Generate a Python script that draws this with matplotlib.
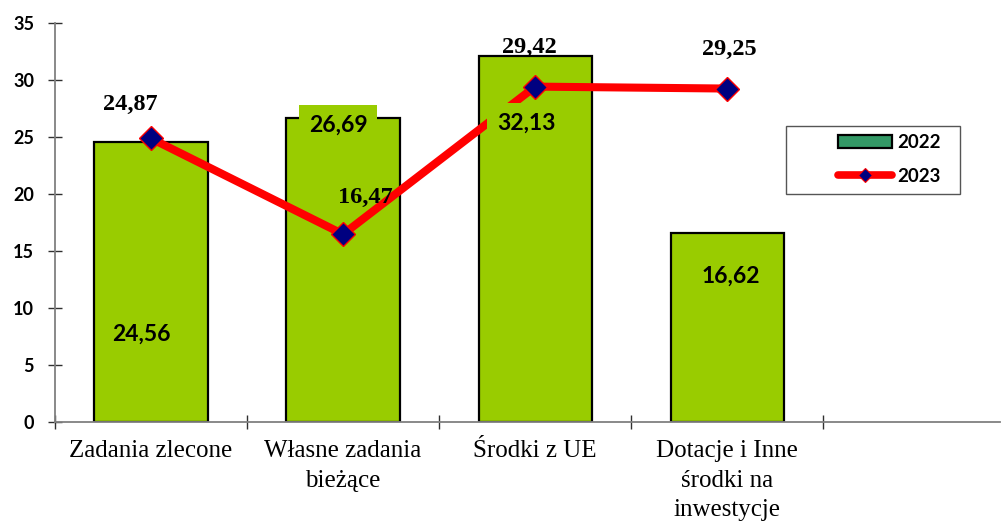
import matplotlib
matplotlib.use("Agg")
import matplotlib.pyplot as plt
from matplotlib.patches import Patch, Rectangle
from matplotlib.lines import Line2D

# ---- data ----
categories = ["Zadania zlecone", "Własne zadania\nbieżące", "Środki z UE",
              "Dotacje i Inne\nśrodki na\ninwestycje"]
values_2022 = [24.56, 26.69, 32.13, 16.62]
values_2023 = [24.87, 16.47, 29.42, 29.25]
series_names = ["2022", "2023"]
y_ticks = [0, 5, 10, 15, 20, 25, 30, 35]

# ---- layout (label offsets in pixels) ----
bar_label_offsets = [(-10, -192), (-5, -7), (-9, -67), (4, -44)]
line_label_offsets = [(-21, 34), (22, 37), (-6, 39), (2, 39)]

BAR_GREEN = "#99CC00"
LEG_GREEN = "#339966"
SANS = ["Lato", "DejaVu Sans"]
SERIF = ["Liberation Serif", "DejaVu Serif"]

def fmt(v):
    return f"{v:.2f}".replace(".", ",")

W, H = 1002, 522
fig = plt.figure(figsize=(W / 100, H / 100), dpi=100)
ax = fig.add_axes([55 / W, 100 / H, (1000 - 55) / W, (422 - 23) / H])

x = list(range(len(categories)))
ax.bar(x, values_2022, width=0.59, color=BAR_GREEN, edgecolor="black",
       linewidth=1.6, zorder=2)
ax.plot(x, values_2023, color="red", lw=5.8, marker="D", ms=12.5,
        mfc="#000080", mec="red", mew=1.0, zorder=3, solid_capstyle="round")

ax.set_xlim(-0.5, 4.42)
ax.set_ylim(0, 35)

for s in ["top", "right"]:
    ax.spines[s].set_visible(False)
for s in ["left", "bottom"]:
    ax.spines[s].set_color("#808080")
    ax.spines[s].set_linewidth(1.3)

ax.set_yticks(y_ticks)
ax.set_yticklabels([str(t) for t in y_ticks], fontfamily=SANS,
                   fontweight="bold", fontsize=13)
ax.tick_params(axis="y", direction="inout", length=10, width=1.0,
               color="#303030", pad=10)

ax.set_xticks([-0.5, 0.5, 1.5, 2.5, 3.5])
ax.set_xticklabels([])
ax.tick_params(axis="x", which="major", direction="inout", length=10,
               width=1.0, color="#303030")
ax.set_xticks(x, minor=True)
ax.set_xticklabels(categories, minor=True, fontfamily=SERIF, fontsize=18,
                   linespacing=1.45)
ax.tick_params(axis="x", which="minor", length=0, pad=13)

# bar labels
for i, v in enumerate(values_2022):
    dx, dy = bar_label_offsets[i]
    ax.annotate(fmt(v), xy=(i, v), xytext=(dx, dy), textcoords="offset pixels",
                ha="center", va="center", fontfamily=SANS, fontweight="bold",
                fontsize=16.5, zorder=4,
                bbox=dict(boxstyle="square,pad=0.42", fc=BAR_GREEN, ec="none"))

# line labels
for i, v in enumerate(values_2023):
    dx, dy = line_label_offsets[i]
    ax.annotate(fmt(v), xy=(i, v), xytext=(dx, dy), textcoords="offset pixels",
                ha="center", va="center", fontfamily=SERIF, fontweight="bold",
                fontsize=17.5, zorder=5)

# legend
fig.patches.append(Rectangle((786 / W, 1 - 194 / H), (960 - 786) / W,
                             (194 - 126) / H, transform=fig.transFigure,
                             fill=False, ec="#555555", lw=1.0))
handles = [Patch(facecolor=LEG_GREEN, edgecolor="black", linewidth=1.6),
           Line2D([], [], color="red", lw=5.5, marker="D", ms=7,
                  mfc="#000080", mec="red", mew=0.8, solid_capstyle="round")]
leg = fig.legend(handles, series_names, loc="upper left",
                 bbox_to_anchor=(838 / W, 1 - 134 / H),
                 bbox_transform=fig.transFigure, frameon=False,
                 borderpad=0, borderaxespad=0, handlelength=2.9,
                 handleheight=0.75, handletextpad=0.25, labelspacing=0.9,
                 prop=dict(family=SANS, weight="bold", size=13.5))

fig.savefig("out.png", dpi=100)
